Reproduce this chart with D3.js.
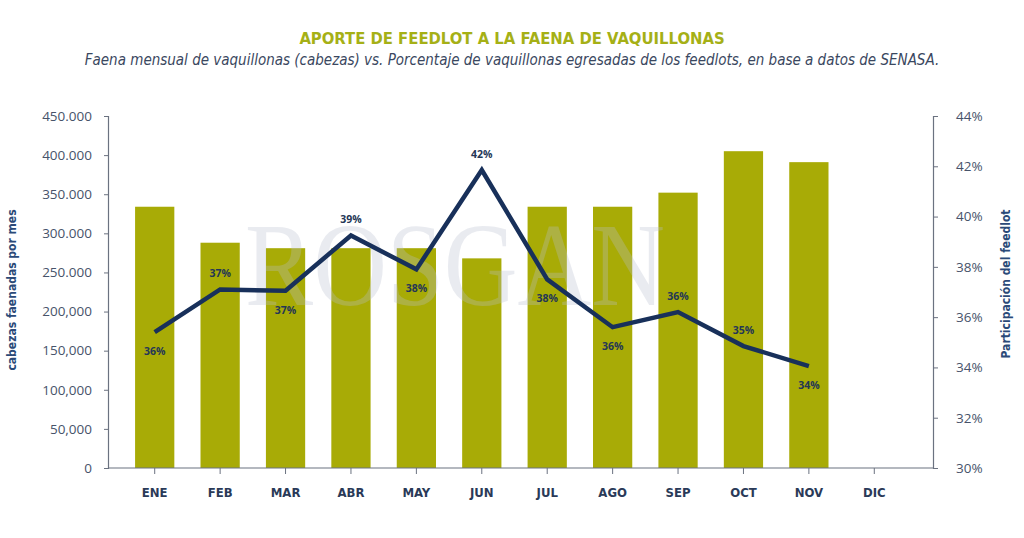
<!DOCTYPE html>
<html><head><meta charset="utf-8">
<script src="https://cdn.jsdelivr.net/npm/d3@7"></script>
<style>body{margin:0;background:#fff}svg{display:block}</style>
</head><body>
<script>
const months = ["ENE","FEB","MAR","ABR","MAY","JUN","JUL","AGO","SEP","OCT","NOV","DIC"];
const faena = [334000,288000,281000,281000,281000,268000,334000,334000,352000,405000,391000,null];
const participacion = [35.4,37.1,37.05,39.25,37.9,41.85,37.5,35.6,36.2,34.85,34.05,null];
const pctLabels = ["36%","37%","37%","39%","38%","42%","38%","36%","36%","35%","34%",null];
const labelSide = ["below","above","below","above","below","above","below","below","above","above","below",null];
const leftTicks = [0,50000,100000,150000,200000,250000,300000,350000,400000,450000];
const leftTickLabels = ["0","50,000","100,000","150,000","200,000","250.000","300.000","350.000","400.000","450.000"];
const rightTicks = [30,32,34,36,38,40,42,44];

const W=1024,H=538;
const svg=d3.select("body").append("svg").attr("width",W).attr("height",H);
const navy="#18305a", olive="#a8ab06", grey="#47536a";

const x=d3.scaleBand().domain(months).range([122,907]).paddingInner(0.4).paddingOuter(0.2);
const yL=d3.scaleLinear().domain([0,450000]).range([468,116]);
const yR=d3.scaleLinear().domain([30,44]).range([468,116]);

// title
svg.append("text").attr("x",512).attr("y",44).attr("text-anchor","middle")
  .attr("font-family","'DejaVu Sans Condensed','Liberation Sans Narrow',sans-serif").attr("font-weight","bold")
  .attr("font-size",16.5).attr("fill","#a5b016").text("APORTE DE FEEDLOT A LA FAENA DE VAQUILLONAS");
svg.append("text").attr("x",512).attr("y",65).attr("text-anchor","middle")
  .attr("font-family","'DejaVu Sans Condensed','Liberation Sans Narrow',sans-serif").attr("font-style","italic")
  .attr("font-size",15).attr("fill","#3a4760").text("Faena mensual de vaquillonas (cabezas) vs. Porcentaje de vaquillonas egresadas de los feedlots, en base a datos de SENASA.");

// bars
svg.append("g").selectAll("rect").data(months.map((m,i)=>({m,v:faena[i]})).filter(d=>d.v!=null))
  .join("rect").attr("x",d=>x(d.m)).attr("width",x.bandwidth())
  .attr("y",d=>yL(d.v)).attr("height",d=>yL(0)-yL(d.v)).attr("fill",olive);

// watermark
svg.append("text").attr("x",455).attr("y",305).attr("text-anchor","middle")
  .attr("font-family","'Liberation Serif','DejaVu Serif',serif").attr("font-size",118)
  .attr("fill","#b9bfd0").attr("opacity",0.3).attr("textLength",420).attr("lengthAdjust","spacingAndGlyphs").text("ROSGAN");

// left axis
const axL=svg.append("g").attr("transform","translate(108,0)")
  .call(d3.axisLeft(yL).tickValues(leftTicks).tickFormat((d,i)=>leftTickLabels[i]).tickSize(4).tickPadding(12));
axL.select(".domain").attr("stroke","#6b7280").attr("stroke-width",1.2);
axL.selectAll(".tick line").attr("stroke","#6b7280");
axL.selectAll("text").attr("font-family","'Open Sans',sans-serif").attr("font-size",13.5).attr("fill",grey);

// right axis
const axR=svg.append("g").attr("transform","translate(933,0)")
  .call(d3.axisRight(yR).tickValues(rightTicks).tickFormat(d=>d+"%").tickSize(5).tickPadding(18));
axR.select(".domain").attr("stroke","#6b7280").attr("stroke-width",1.2);
axR.selectAll(".tick line").attr("stroke","#6b7280");
axR.selectAll("text").attr("font-family","'Open Sans',sans-serif").attr("font-size",13.5).attr("fill",grey);

// bottom axis
const axB=svg.append("g").attr("transform","translate(0,468)")
  .call(d3.axisBottom(x).tickSize(6).tickPadding(14).tickSizeOuter(0));
axB.select(".domain").attr("stroke","#6b7280").attr("stroke-width",1.2).attr("d","M108,0H933");
axB.selectAll(".tick line").attr("stroke","#6b7280");
axB.selectAll("text").attr("font-family","'DejaVu Sans Condensed','Liberation Sans Narrow',sans-serif")
  .attr("font-weight","bold").attr("font-size",13).attr("fill","#2a3a58");

// axis titles
svg.append("text").attr("transform","translate(16,290) rotate(-90)").attr("text-anchor","middle")
  .attr("font-family","'DejaVu Sans Condensed','Liberation Sans Narrow',sans-serif").attr("font-weight","bold")
  .attr("font-size",12).attr("fill","#2b4a78").text("cabezas faenadas por mes");
svg.append("text").attr("transform","translate(1010,284) rotate(-90)").attr("text-anchor","middle")
  .attr("font-family","'DejaVu Sans Condensed','Liberation Sans Narrow',sans-serif").attr("font-weight","bold")
  .attr("font-size",12).attr("fill","#2b4a78").text("Participación del feedlot");

// line
const pts=months.map((m,i)=>({m,v:participacion[i],lab:pctLabels[i],side:labelSide[i]})).filter(d=>d.v!=null);
const cx=d=>x(d.m)+x.bandwidth()/2;
svg.append("path").datum(pts).attr("fill","none").attr("stroke",navy).attr("stroke-width",4.5)
  .attr("stroke-linejoin","miter").attr("d",d3.line().x(cx).y(d=>yR(d.v)));
svg.append("g").selectAll("text").data(pts).join("text")
  .attr("x",cx).attr("y",d=>yR(d.v)+(d.side==="above"?-12:23)).attr("text-anchor","middle")
  .attr("font-family","'Open Sans',sans-serif").attr("font-weight","bold").attr("font-size",10.5)
  .attr("fill","#243656").text(d=>d.lab);
</script>
</body></html>
